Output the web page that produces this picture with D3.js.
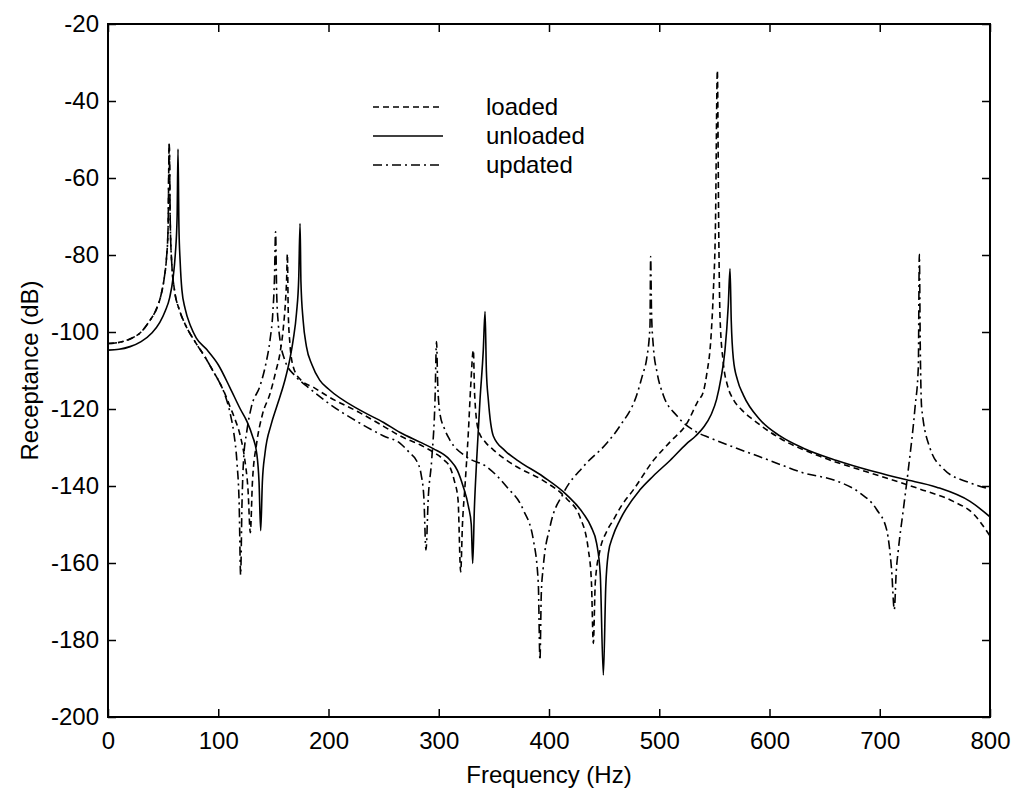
<!DOCTYPE html>
<html>
<head>
<meta charset="utf-8">
<script src="https://cdn.jsdelivr.net/npm/d3@7"></script>
<style>
    body { margin: 0; background: #fff; }
    text { font-family: "Liberation Sans", Arial, sans-serif; fill: #000; }
</style>
</head>
<body>
<div id="chart"></div>
<script>
// Receptance curves, [frequency (Hz), receptance (dB)]
const loaded = [
    [0,-103],[10,-102.7],[20,-101.8],[30,-100],[38,-97],[44,-94],[48,-90.5],[51,-86],[53,-81],[54.5,-73],
    [55.5,-51.2],[56.5,-72],[58,-83],[60,-88.5],[65,-94.5],[70,-98],[80,-103],[88,-106.5],[95,-110],[100,-112.5],
    [106,-116],[110.7,-119.4],[115,-122.5],[120,-127],[124,-133],[127,-141],[129.1,-152.1],[131,-139],[134.8,-129],[140,-121.5],
    [147,-116],[152,-110.5],[156,-105.5],[159,-99],[161,-92],[162,-86.5],[162.7,-79.7],[163.5,-95],[165,-103],[168,-109],
    [175,-112.5],[186,-114.3],[200,-116.8],[228.6,-121],[250,-124.5],[265,-127],[283,-129.3],[295,-131.2],[305,-133.3],[310,-135],
    [314,-138.5],[317.5,-143.6],[319.9,-162.3],[321.5,-150],[323.8,-140],[326.8,-126.3],[329,-114],[331.4,-104.7],[332.5,-116],[335.9,-125.5],
    [342,-128.5],[349.5,-130.6],[360,-133],[370.7,-135],[394.8,-138.6],[416,-143.3],[428,-148],[435.7,-156.6],[438.5,-165],[440.2,-180.9],
    [442,-165],[446.3,-156.6],[452,-152],[458.4,-148.8],[466,-145],[476.5,-141],[494.6,-133.4],[510,-128.5],[524.9,-123.8],[535,-118],
    [540,-115.5],[543,-111.1],[547,-101],[549,-90],[551,-72],[552.7,-32.1],[554,-75],[555.1,-96],[558.1,-108],[562,-114],
    [567.2,-117.5],[575,-120.3],[585.3,-122.8],[609.5,-127.6],[645.8,-132.3],[691.2,-136.6],[736.5,-140.8],[766.7,-144],[784.9,-147.2],[800,-153]
];

const unloaded = [
    [0,-104.7],[10,-104.5],[20,-103.8],[30,-102.5],[40,-100.2],[47,-97.5],[52,-94.5],[56,-91],[59,-86],[61,-80],
    [62.7,-70],[63.5,-52.5],[64.3,-72],[65.5,-82],[67,-89],[70,-94],[75,-98.5],[80,-101.5],[90,-104.7],[100,-108.5],
    [110.7,-114.5],[120,-120],[126,-123.2],[131,-127],[134.9,-131.5],[137,-139],[138.5,-151.6],[140,-139],[142.4,-131.5],[148,-124],
    [153,-119.4],[160,-113],[165,-107],[168,-102],[171,-95],[173,-86],[174.2,-71.8],[175,-87],[177,-97],[180,-103.8],
    [185,-108.5],[192,-112.5],[200,-114.8],[228.6,-120.3],[250,-123.5],[265,-126.1],[283,-128.6],[295,-130.3],[310,-133.2],[317,-136],
    [322,-140],[327,-145.4],[329.5,-150],[330.8,-160.1],[332.3,-146],[334.4,-133.2],[337.4,-117.7],[340.4,-104.7],[342,-94.7],[343.2,-110],
    [345,-117.7],[349.5,-127],[360,-130.8],[370.7,-133.2],[394.8,-137.6],[416,-142.3],[431,-147.1],[438,-150.5],[443.2,-154.9],[446.5,-163],
    [449.3,-189.1],[451.5,-166],[453.8,-157.5],[458,-153],[464.4,-148.8],[482.5,-141],[494.6,-137.4],[510,-133.3],[524.9,-129],[533,-127],
    [540,-124.8],[547,-121.5],[552,-117.5],[556,-112],[559.6,-104.8],[562.6,-93.1],[564.2,-83.6],[565.3,-97],[567.2,-106.9],[571,-112.5],
    [576.3,-116.4],[591.4,-122.8],[609.5,-127],[630.7,-130.2],[661,-133.4],[691.2,-136],[721.4,-138.2],[751.6,-140.3],[781.9,-144],[800,-148]
];

const updated = [
    [0,-103],[10,-102.7],[20,-101.8],[30,-100],[38,-97],[44,-94],[48,-90.5],[51,-86],[53,-81],[54.5,-73],
    [55.5,-51.2],[56.5,-72],[58,-83],[60,-88.5],[65,-94.5],[70,-98],[80,-103],[88,-106.5],[95,-110],[100,-112.5],
    [105,-115.5],[110.7,-121],[114,-126],[117,-134],[119,-145],[120.3,-163.1],[121.5,-145],[123,-133],[125.8,-126],[130,-119.5],
    [137.9,-114],[143,-108.5],[147,-102],[149.5,-95],[151,-86],[152,-74],[153,-90],[154.5,-98],[156,-102],[160,-107],
    [170,-111.5],[180,-114],[200,-118.5],[228.6,-123.7],[250,-127],[265,-128.9],[274,-131.5],[280,-133.5],[284,-137],[286.5,-143],
    [288.4,-156.6],[290.5,-143],[293.6,-133.2],[296.6,-117.7],[298,-102.5],[299,-113],[301,-121],[305,-125],[310,-128],[325,-132.4],
    [343.5,-135],[361.6,-140.2],[376.7,-146.2],[385.8,-154],[390.3,-165.3],[391.8,-185.2],[393,-168],[394.8,-161],[400.9,-150.6],[413,-141.9],
    [431,-135],[452.3,-128.9],[464.4,-124.4],[479.5,-116.4],[485,-111],[488.6,-106.9],[491.6,-98.4],[492.2,-80.4],[493,-95],[494.6,-103.6],
    [498,-110.5],[503.7,-116.4],[515.8,-121.7],[534,-126],[546,-127.5],[570.2,-130.2],[600.5,-133.4],[630.7,-136.6],[661,-138.7],[682,-141.8],
    [697.2,-146.1],[706.3,-151.4],[710.8,-162],[713.2,-172.1],[715,-162],[716.8,-156.7],[721.4,-146.1],[726,-135.5],[732,-119.6],[735,-109],
    [735.9,-79.8],[736.8,-105],[738,-119.6],[745.6,-130.2],[757.6,-135.5],[781.9,-139.2],[800,-140.8]
];

const xTicks = [0, 100, 200, 300, 400, 500, 600, 700, 800];
const yTicks = [-20, -40, -60, -80, -100, -120, -140, -160, -180, -200];

const seriesNames = ["loaded", "unloaded", "updated"];
const seriesData = [loaded, unloaded, updated];
const seriesDash = ["6,4", null, "9,4,2,4"];

const width = 1022;
const height = 794;
const margin = { top: 24, right: 32, bottom: 77, left: 108 };
const innerW = width - margin.left - margin.right;
const innerH = height - margin.top - margin.bottom;

const svg = d3.select("#chart")
    .append("svg")
    .attr("width", width)
    .attr("height", height);

svg.append("rect")
    .attr("width", width)
    .attr("height", height)
    .attr("fill", "#fff");

const g = svg.append("g")
    .attr("transform", "translate(" + margin.left + "," + margin.top + ")");

const x = d3.scaleLinear().domain([0, 800]).range([0, innerW]);
const y = d3.scaleLinear().domain([-200, -20]).range([innerH, 0]);

g.append("clipPath")
    .attr("id", "clip")
    .append("rect")
    .attr("width", innerW)
    .attr("height", innerH);

// Curves
const line = d3.line()
    .curve(d3.curveMonotoneX)
    .x(function(d) { return x(d[0]); })
    .y(function(d) { return y(d[1]); });

seriesData.forEach(function(data, i) {
    g.append("path")
        .datum(data)
        .attr("clip-path", "url(#clip)")
        .attr("fill", "none")
        .attr("stroke", "#000")
        .attr("stroke-width", 1.6)
        .attr("stroke-dasharray", seriesDash[i])
        .attr("d", line);
});

// Axes, ticks pointing inward on all four sides
function plainNumber(d) {
    return String(d);
}

function styleAxis(sel) {
    sel.select(".domain").remove();
    sel.selectAll(".tick line").attr("stroke", "#000").attr("stroke-width", 1.5);
    sel.selectAll("text").style("font-size", "24px").style("font-family", "Liberation Sans, Arial, sans-serif");
}

g.append("g")
    .attr("transform", "translate(0," + innerH + ")")
    .call(d3.axisBottom(x).tickValues(xTicks).tickSize(-8).tickPadding(15).tickFormat(plainNumber))
    .call(styleAxis);

g.append("g")
    .call(d3.axisTop(x).tickValues(xTicks).tickSize(-8).tickFormat(""))
    .call(styleAxis);

g.append("g")
    .call(d3.axisLeft(y).tickValues(yTicks).tickSize(-8).tickPadding(9).tickFormat(plainNumber))
    .call(styleAxis);

g.append("g")
    .attr("transform", "translate(" + innerW + ",0)")
    .call(d3.axisRight(y).tickValues(yTicks).tickSize(-8).tickFormat(""))
    .call(styleAxis);

g.append("rect")
    .attr("width", innerW)
    .attr("height", innerH)
    .attr("fill", "none")
    .attr("stroke", "#000")
    .attr("stroke-width", 2);

// Axis labels
svg.append("text")
    .attr("x", margin.left + innerW / 2)
    .attr("y", 783)
    .attr("text-anchor", "middle")
    .style("font-size", "24px")
    .text("Frequency (Hz)");

svg.append("text")
    .attr("transform", "translate(38," + (margin.top + innerH / 2) + ") rotate(-90)")
    .attr("text-anchor", "middle")
    .style("font-size", "24px")
    .text("Receptance (dB)");

// Legend
const legend = svg.append("g");

seriesNames.forEach(function(name, i) {
    const ly = 107 + i * 29;

    legend.append("line")
        .attr("x1", 373)
        .attr("x2", 443)
        .attr("y1", ly)
        .attr("y2", ly)
        .attr("stroke", "#000")
        .attr("stroke-width", 1.6)
        .attr("stroke-dasharray", seriesDash[i]);

    legend.append("text")
        .attr("x", 486)
        .attr("y", ly + 8)
        .style("font-size", "24px")
        .text(name);
});
</script>
</body>
</html>
